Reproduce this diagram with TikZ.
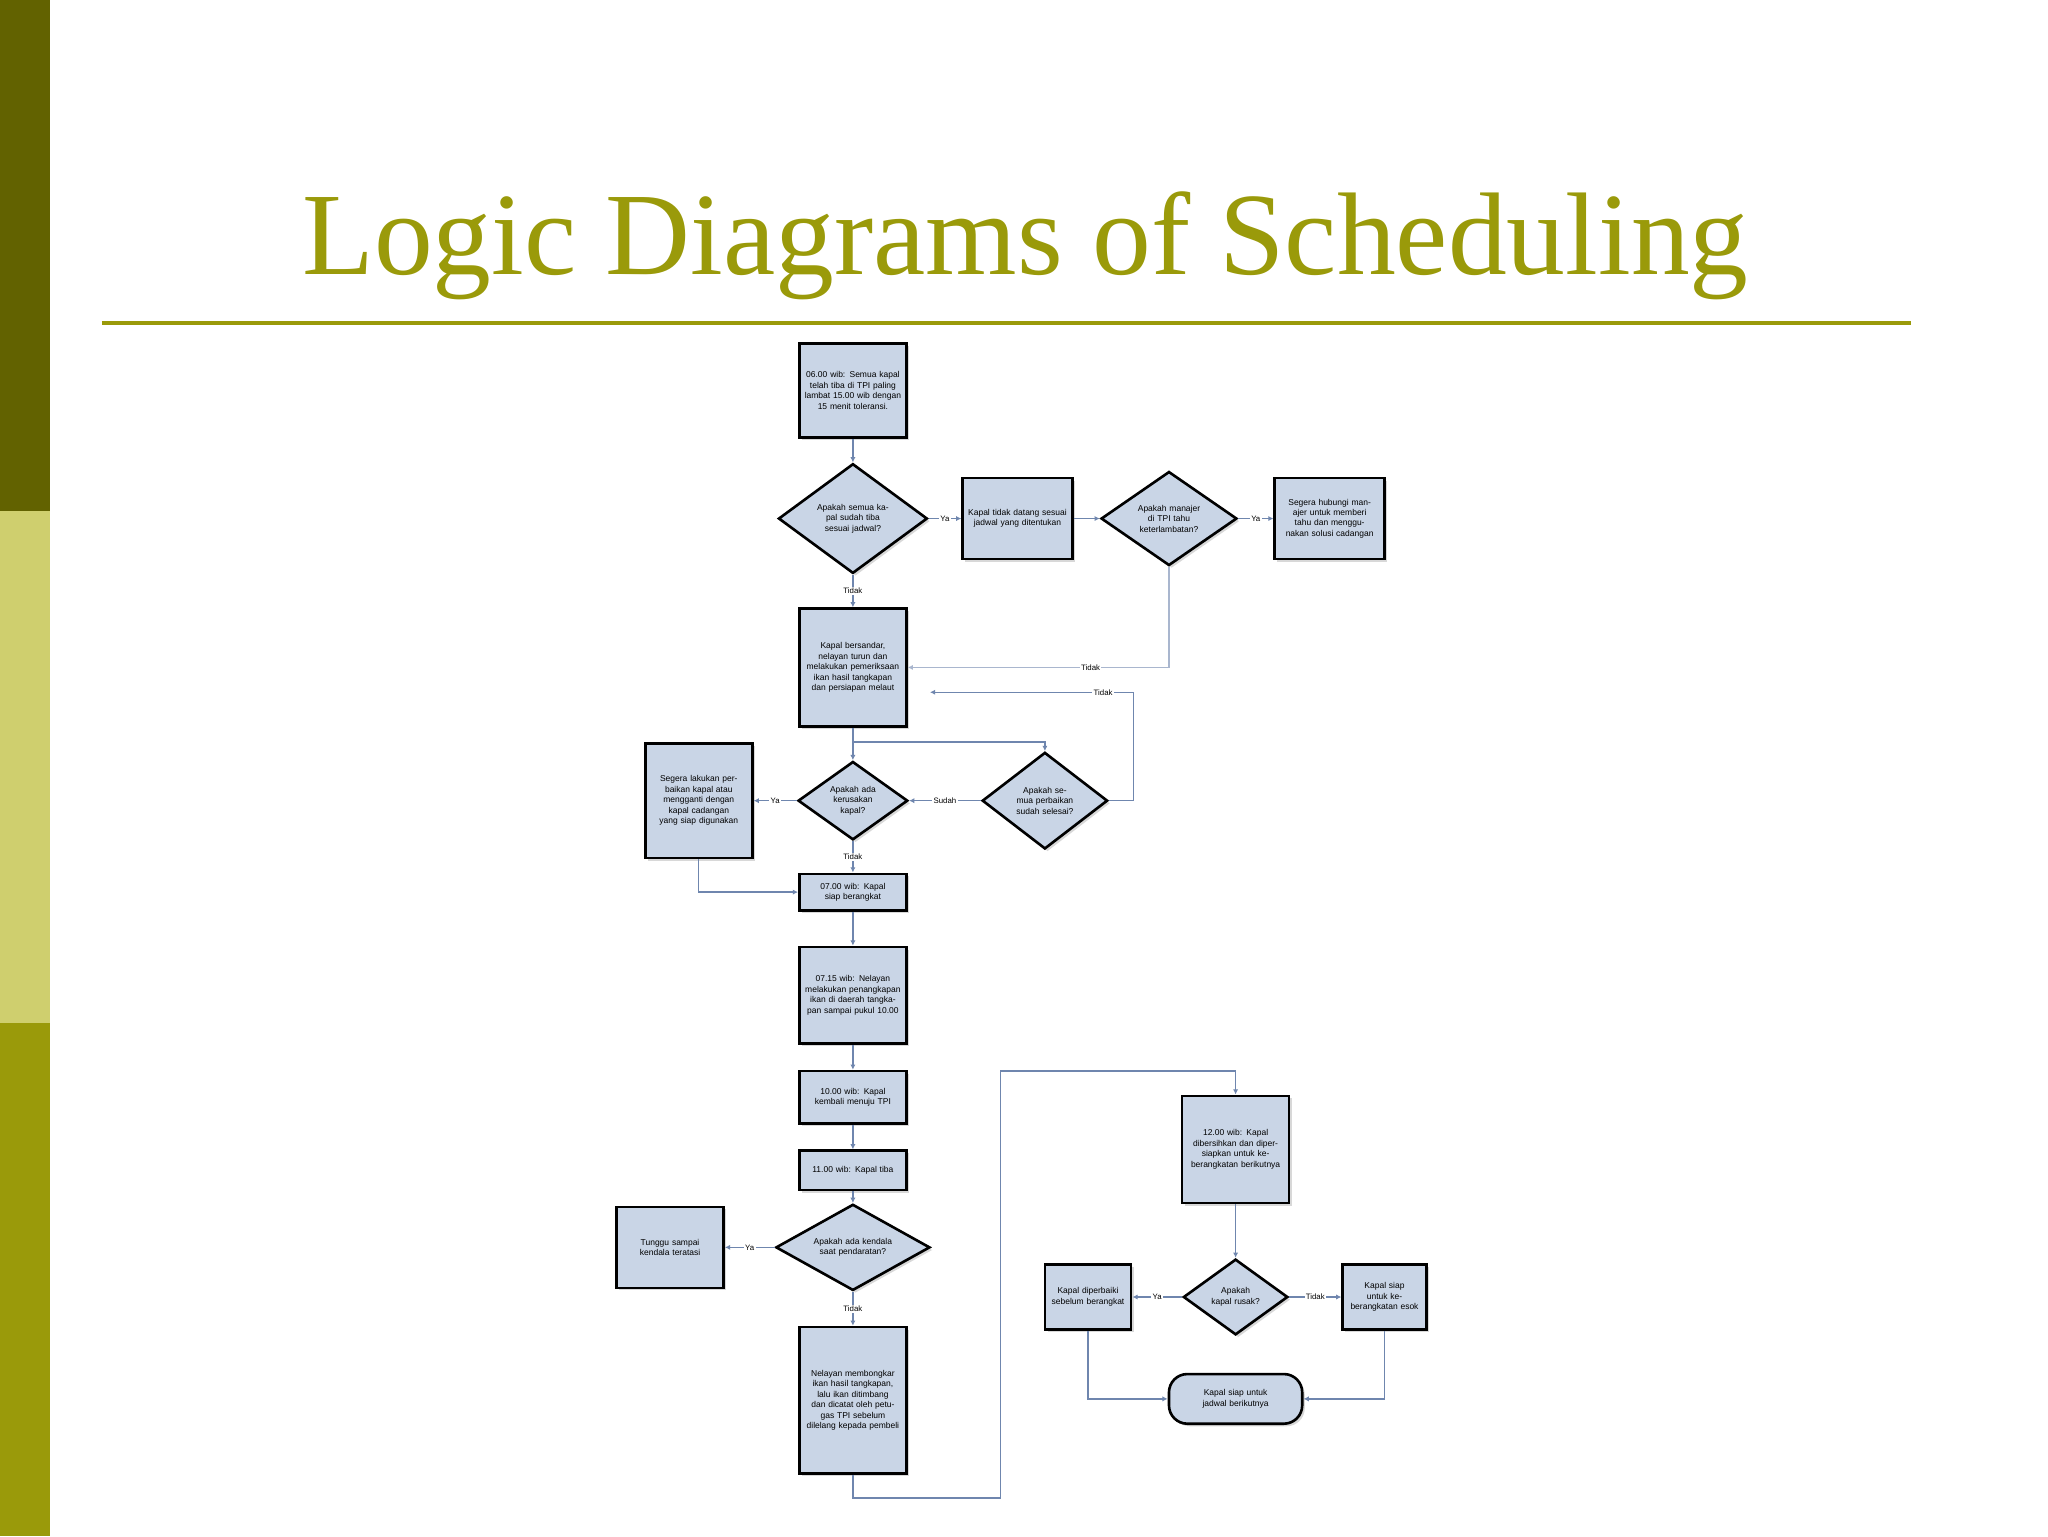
\documentclass[tikz,border=0pt]{standalone}
\usepackage{fontspec}
\setmainfont{Liberation Serif}
\newfontfamily\boxfont{Liberation Sans}
\usetikzlibrary{shapes.geometric,arrows.meta,shadows}
\definecolor{olv}{HTML}{9A9A0A}
\definecolor{olvdark}{HTML}{626200}
\definecolor{olvlight}{HTML}{CFCF6E}
\definecolor{boxfill}{HTML}{C9D5E6}
\definecolor{lnk}{HTML}{6F86AE}
\begin{document}
\begin{tikzpicture}[x=1pt,y=-1pt,
  base/.style={draw=black,line width=2pt,fill=boxfill,font=\boxfont\fontsize{6.5}{8}\selectfont,align=center,inner sep=1pt,drop shadow={opacity=0.3,shadow xshift=2pt,shadow yshift=-2pt}},
  pbox/.style={base,rectangle,minimum width=#1},
  dia/.style={base,diamond,aspect=1.4,inner sep=0pt},
  term/.style={base,rounded corners=14pt,minimum width=102pt,minimum height=38pt},
  conn/.style={draw=lnk,line width=1pt,-{Latex[length=4pt,width=4pt]}},
  lab/.style={font=\boxfont\fontsize{6}{7}\selectfont,fill=white,inner sep=1pt}]
\useasboundingbox (0,0) rectangle (1568,1176);
\fill[white] (0,0) rectangle (1568,1176);
\fill[olvdark] (0,0) rectangle (38,391);
\fill[olvlight] (0,391) rectangle (38,783);
\fill[olv] (0,783) rectangle (38,1176);
\node[text=olv,font=\fontsize{90}{92}\selectfont] (title) at (785,188) {Logic Diagrams of Scheduling};
\draw[olv,line width=3pt] (78,247) -- (1463,247);

\node[pbox=82pt,minimum height=72pt,text width=74pt] (b1) at (653,299) {06.00 wib: Semua kapal telah tiba di TPI paling lambat 15.00 wib dengan 15 menit toleransi.};
\node[dia,minimum width=114pt,minimum height=84pt,text width=70pt] (d1) at (653,397) {Apakah semua kapal sudah tiba sesuai jadwal?};
\node[pbox=84pt,minimum height=62pt,text width=76pt] (b2) at (779,397) {Kapal tidak datang sesuai jadwal yang ditentukan};
\node[dia,minimum width=104pt,minimum height=72pt,text width=56pt] (d2) at (895,397) {Apakah manajer di TPI tahu keterlambatan?};
\node[pbox=84pt,minimum height=62pt,text width=76pt] (b3) at (1018,397) {Segera hubungi manajer untuk memberi tahu dan menggunakan solusi cadangan};
\node[pbox=82pt,minimum height=90pt,text width=74pt] (b4) at (653,511) {Kapal bersandar, nelayan turun dan melakukan pemeriksaan ikan hasil tangkapan dan persiapan melaut};
\node[dia,minimum width=84pt,minimum height=60pt,text width=46pt] (d3) at (653,613) {Apakah ada kerusakan kapal?};
\node[dia,minimum width=96pt,minimum height=74pt,text width=56pt] (d4) at (800,613) {Apakah semua perbaikan sudah selesai?};
\node[pbox=82pt,minimum height=88pt,text width=74pt] (b5) at (535,613) {Segera lakukan perbaikan kapal atau mengganti dengan kapal cadangan yang siap digunakan};
\node[pbox=82pt,minimum height=28pt,text width=74pt] (b6) at (653,683) {07.00 wib: Kapal siap berangkat};
\node[pbox=82pt,minimum height=74pt,text width=74pt] (b7) at (653,762) {07.15 wib: Nelayan melakukan penangkapan ikan di daerah tangkapan sampai pukul 10.00};
\node[pbox=82pt,minimum height=40pt,text width=74pt] (b8) at (653,840) {10.00 wib: Kapal kembali menuju TPI};
\node[pbox=82pt,minimum height=30pt,text width=74pt] (b9) at (653,896) {11.00 wib: Kapal tiba};
\node[dia,minimum width=118pt,minimum height=66pt,text width=66pt] (d5) at (653,955) {Apakah ada kendala saat pendaratan?};
\node[pbox=82pt,minimum height=62pt,text width=74pt] (b10) at (513,955) {Tunggu sampai kendala teratasi};
\node[pbox=82pt,minimum height=112pt,text width=74pt] (b11) at (653,1072) {Nelayan membongkar ikan hasil tangkapan, lalu ikan ditimbang dan dicatat oleh petugas TPI sebelum dilelang kepada pembeli};
\node[pbox=82pt,minimum height=82pt,text width=74pt] (b12) at (946,880) {12.00 wib: Kapal dibersihkan dan dipersiapkan untuk keberangkatan berikutnya};
\node[dia,minimum width=80pt,minimum height=58pt,text width=44pt] (d6) at (946,993) {Apakah kapal rusak?};
\node[pbox=66pt,minimum height=50pt,text width=58pt] (b13) at (833,993) {Kapal diperbaiki sebelum berangkat};
\node[pbox=64pt,minimum height=50pt,text width=56pt] (b14) at (1060,993) {Kapal siap untuk keberangkatan esok};
\node[term,text width=94pt] (t1) at (946,1071) {Kapal siap untuk jadwal berikutnya};

\draw[conn] (b1) -- (d1);
\draw[conn] (d1) -- node[lab]{Ya} (b2);
\draw[conn] (d1) -- node[lab]{Tidak} (b4);
\draw[conn] (b2) -- (d2);
\draw[conn] (d2) -- node[lab]{Ya} (b3);
\draw[conn,draw=lnk!60] (d2.south) -- (895,511) -- node[lab,pos=0.3]{Tidak} (b4.east |- 0,511);
\coordinate (c1) at (868,613);
\coordinate (c2) at (868,530);
\draw[conn] (d4.east) -- (c1) -- (c2) -- node[lab,pos=0.15]{Tidak} (712,530);
\draw[conn] (b4) -- (d3);
\draw[conn] (653,568) -- (800,568) -- (d4.north);
\draw[conn] (d4) -- node[lab]{Sudah} (d3);
\draw[conn] (d3) -- node[lab]{Ya} (b5);
\draw[conn] (d3) -- node[lab]{Tidak} (b6);
\draw[conn] (b5.south) -- (535,683) -- (b6.west);
\draw[conn] (b6) -- (b7);
\draw[conn] (b7) -- (b8);
\draw[conn] (b8) -- (b9);
\draw[conn] (b9) -- (d5);
\draw[conn] (d5) -- node[lab]{Ya} (b10);
\draw[conn] (d5) -- node[lab]{Tidak} (b11);
\draw[conn] (b11.south) -- (653,1147) -- (766,1147) -- (766,820) -- (946,820) -- (b12.north);
\draw[conn] (b12) -- (d6);
\draw[conn] (d6) -- node[lab]{Ya} (b13);
\draw[conn] (d6) -- node[lab]{Tidak} (b14);
\draw[conn] (b13.south) -- (833,1071) -- (t1.west);
\draw[conn] (b14.south) -- (1060,1071) -- (t1.east);
\end{tikzpicture}
\end{document}
